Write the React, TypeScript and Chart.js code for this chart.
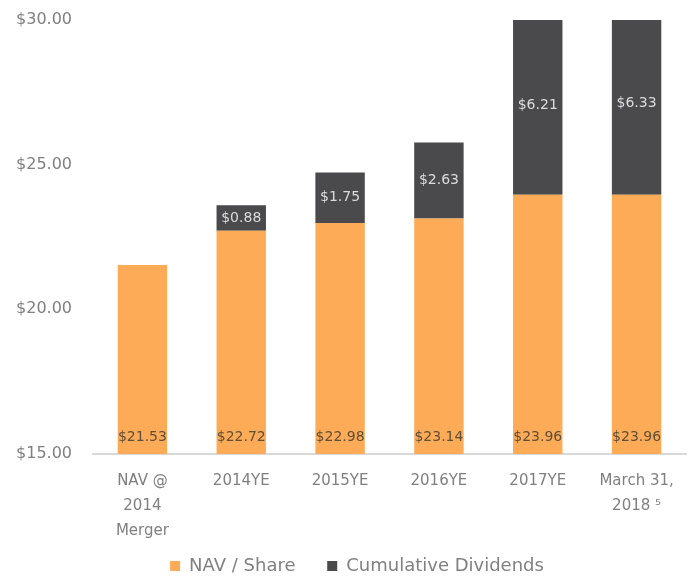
import React, { useEffect, useRef } from "react";
import { Chart, registerables } from "chart.js";

Chart.register(...registerables);

const categories: (string | string[])[] = [
  ["NAV @", "2014", "Merger"],
  "2014YE",
  "2015YE",
  "2016YE",
  "2017YE",
  ["March 31,", "2018 \u2075"],
];
const navPerShare = [21.53, 22.72, 22.98, 23.14, 23.96, 23.96];
const cumulativeDividends = [0, 0.88, 1.75, 2.63, 6.21, 6.33];
const yTicks = [15, 20, 25, 30];

const FONT = "'DejaVu Sans', sans-serif";
const ORANGE = "#FDAB57";
const DARK = "#4A4A4C";

const labelPlugin = {
  id: "barValueLabels",
  afterDatasetsDraw(chart: any) {
    const { ctx, chartArea } = chart;
    ctx.save();
    ctx.font = `14px ${FONT}`;
    ctx.textAlign = "center";
    ctx.textBaseline = "middle";
    const m0 = chart.getDatasetMeta(0);
    m0.data.forEach((el: any, i: number) => {
      ctx.fillStyle = "#5e4f3a";
      ctx.fillText(`$${navPerShare[i].toFixed(2)}`, el.x, chartArea.bottom - 17);
    });
    const m1 = chart.getDatasetMeta(1);
    m1.data.forEach((el: any, i: number) => {
      const v = cumulativeDividends[i];
      if (!v) return;
      ctx.fillStyle = "#dcdcdc";
      ctx.fillText(`$${v.toFixed(2)}`, el.x, (el.y + el.base) / 2);
    });
    ctx.restore();
  },
};

const legendShiftPlugin = {
  id: "legendShift",
  afterLayout(chart: any) {
    if (chart.legend) {
      chart.legend.left += 14;
      chart.legend.right += 14;
    }
  },
};

export default function App() {
  const ref = useRef<HTMLCanvasElement>(null);
  useEffect(() => {
    if (!ref.current) return;
    const chart = new Chart(ref.current, {
      type: "bar",
      data: {
        labels: categories,
        datasets: [
          {
            label: "NAV / Share",
            data: navPerShare,
            backgroundColor: ORANGE,
            categoryPercentage: 1,
            barPercentage: 0.5,
          },
          {
            label: "Cumulative Dividends",
            data: cumulativeDividends,
            backgroundColor: DARK,
            categoryPercentage: 1,
            barPercentage: 0.5,
          },
        ],
      },
      options: {
        responsive: false,
        animation: false,
        layout: { padding: { top: 20, right: 6, left: 0, bottom: 0 } },
        plugins: {
          tooltip: { enabled: false },
          legend: {
            position: "bottom",
            labels: {
              boxWidth: 10,
              boxHeight: 10,
              padding: 17,
              color: "#808080",
              font: { family: FONT, size: 18 },
              generateLabels: (chart: any) => {
                const items = Chart.defaults.plugins.legend.labels.generateLabels(chart);
                return items.map((it: any, i: number) => ({
                  ...it,
                  text: i === 0 ? it.text + "\u2002 " : it.text,
                }));
              },
            },
          },
        },
        scales: {
          x: {
            stacked: true,
            grid: { display: false },
            border: { display: true, color: "#d9d9d9", width: 2 },
            ticks: {
              color: "#7f7f7f",
              padding: 7,
              font: { family: FONT, size: 15, lineHeight: 1.65 },
              maxRotation: 0,
              autoSkip: false,
            },
            afterFit: (s: any) => {
              s.height = 86;
            },
          },
          y: {
            stacked: true,
            min: 15,
            max: 30,
            grid: { display: false },
            border: { display: false },
            afterBuildTicks: (s: any) => {
              s.ticks = yTicks.map((v) => ({ value: v }));
            },
            ticks: {
              color: "#7f7f7f",
              padding: 13,
              font: { family: FONT, size: 16 },
              callback: (v: any) => `$${Number(v).toFixed(2)}`,
            },
            afterFit: (s: any) => {
              s.width = 93;
              s.paddingTop = 0;
            },
          },
        },
      },
      plugins: [labelPlugin, legendShiftPlugin],
    });
    return () => chart.destroy();
  }, []);
  return (
    <div style={{ position: "fixed", left: 0, top: 0, width: 692, height: 579, overflow: "hidden", background: "#fff" }}>
      <canvas ref={ref} width={692} height={585} style={{ display: "block" }} />
    </div>
  );
}
